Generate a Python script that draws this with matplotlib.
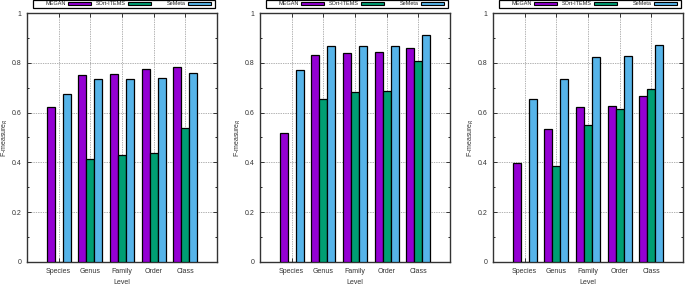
import numpy as np
import matplotlib
matplotlib.use('Agg')
import matplotlib.pyplot as plt
from matplotlib.patches import Rectangle

levels = ['Species', 'Genus', 'Family', 'Order', 'Class']
series_names = ['MEGAN', 'SOrt-ITEMS', 'SeMeta']
colors = ['#9400d3', '#009e73', '#56b4e9']

# panel 1
megan_1 = [0.622, 0.753, 0.756, 0.776, 0.783]
sort_1 = [0.0, 0.415, 0.428, 0.438, 0.537]
semeta_1 = [0.676, 0.735, 0.735, 0.738, 0.758]
# panel 2
megan_2 = [0.519, 0.832, 0.840, 0.843, 0.860]
sort_2 = [0.0, 0.656, 0.683, 0.685, 0.806]
semeta_2 = [0.770, 0.866, 0.867, 0.867, 0.912]
# panel 3
megan_3 = [0.396, 0.536, 0.621, 0.626, 0.665]
sort_3 = [0.0, 0.386, 0.552, 0.616, 0.695]
semeta_3 = [0.656, 0.735, 0.823, 0.828, 0.872]

panels = [(megan_1, sort_1, semeta_1),
          (megan_2, sort_2, semeta_2),
          (megan_3, sort_3, semeta_3)]

W, H = 685, 285
lefts = [27, 260, 493]
axw = 190
bottom_px, top_px = 262, 13
axh = bottom_px - top_px

fs = 5
plt.rcParams['font.family'] = ['Liberation Sans', 'DejaVu Sans']
plt.rcParams['font.size'] = fs

fig = plt.figure(figsize=(W / 100, H / 100), dpi=100)

x = np.arange(1, len(levels) + 1)
bw = 0.25


def draw_key(ax):
    # gnuplot-style key box above the plot, text right-aligned before sample
    ax.add_patch(Rectangle((6 / axw, 1 + 5.5 / axh), 182 / axw, 7.5 / axh,
                           transform=ax.transAxes, facecolor='white',
                           edgecolor='black', linewidth=0.9, clip_on=False, zorder=5))
    yc = 1 + 9.2 / axh
    for i, (name, c) in enumerate(zip(series_names, colors)):
        right = 64 + i * 60
        ax.add_patch(Rectangle(((right - 23) / axw, yc - 1.6 / axh), 23 / axw, 3.2 / axh,
                               transform=ax.transAxes, facecolor=c,
                               edgecolor='black', linewidth=0.8, clip_on=False, zorder=6))
        ax.text((right - 25) / axw, yc, name, transform=ax.transAxes,
                ha='right', va='center', fontsize=4, color='#222222', zorder=6)


for left, data in zip(lefts, panels):
    ax = fig.add_axes([left / W, 1 - bottom_px / H, axw / W, axh / H])
    for i, (vals, c, name) in enumerate(zip(data, colors, series_names)):
        ax.bar(x + (i - 1) * bw, vals, bw, color=c, edgecolor='black',
               linewidth=0.9, label=name, zorder=3)
    ax.set_xlim(0, 6)
    ax.set_ylim(0, 1)
    ax.set_xticks(x)
    ax.set_xticklabels(levels)
    ax.set_yticks([0, 0.2, 0.4, 0.6, 0.8, 1])
    ax.set_yticklabels(['0', '0.2', '0.4', '0.6', '0.8', '1'])
    ax.set_yticks(np.arange(0.1, 1.0, 0.2), minor=True)
    ax.tick_params(direction='in', top=True, right=True, length=3, width=0.7,
                   labelsize=fs, pad=4, colors='#333333', labelcolor='#333333')
    ax.tick_params(which='minor', direction='in', right=True, length=1.5, width=0.6)
    ax.grid(True, which='major', linestyle=(0, (1, 1.5)), color='#666666',
            linewidth=0.5, zorder=0)
    ax.set_axisbelow(True)
    for s in ax.spines.values():
        s.set_linewidth(1.0)
        s.set_color('#333333')
    ax.set_xlabel('Level', fontsize=fs, labelpad=3, color='#333333')
    ax.set_ylabel('F-measure$_R$', fontsize=fs, labelpad=1, color='#333333')
    draw_key(ax)

fig.savefig('out.png', dpi=100)
